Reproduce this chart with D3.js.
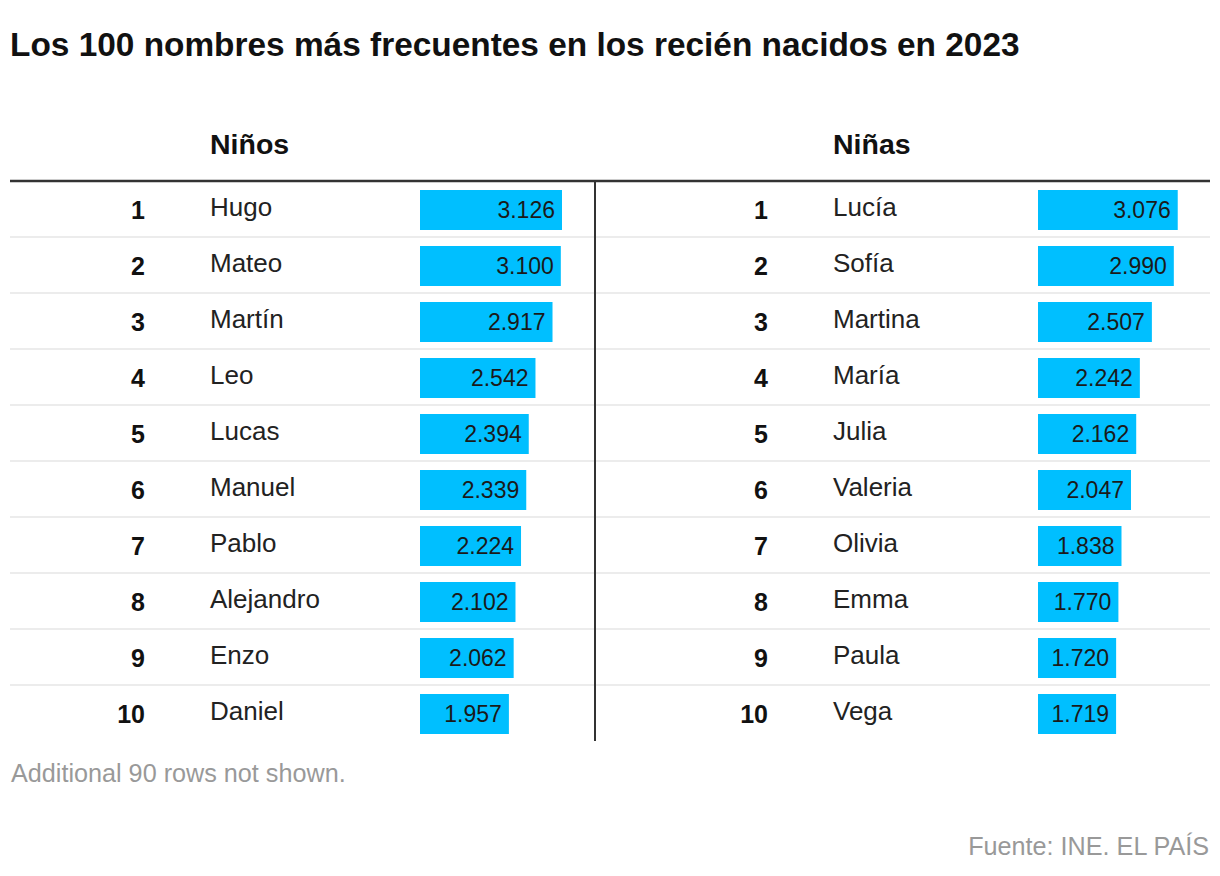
<!DOCTYPE html>
<html>
<head>
<meta charset="utf-8">
<script src="https://cdn.jsdelivr.net/npm/d3@7"></script>
<style>
  body { margin: 0; background: #fff; }
  svg { display: block; font-family: "Liberation Sans", Arial, sans-serif; }
</style>
</head>
<body>
<svg id="chart" width="1220" height="876"></svg>
<script>
// data
var ranks = [1, 2, 3, 4, 5, 6, 7, 8, 9, 10];
var boyNames = ["Hugo", "Mateo", "Martín", "Leo", "Lucas", "Manuel", "Pablo", "Alejandro", "Enzo", "Daniel"];
var boyValues = [3126, 3100, 2917, 2542, 2394, 2339, 2224, 2102, 2062, 1957];
var girlNames = ["Lucía", "Sofía", "Martina", "María", "Julia", "Valeria", "Olivia", "Emma", "Paula", "Vega"];
var girlValues = [3076, 2990, 2507, 2242, 2162, 2047, 1838, 1770, 1720, 1719];

var svg = d3.select("#chart");
var fmt = function(v) { return d3.format(",")(v).replace(/,/g, "."); };

svg.append("text")
  .attr("x", 10).attr("y", 56)
  .attr("font-size", 33.4).attr("font-weight", "bold")
  .attr("fill", "#111")
  .text("Los 100 nombres más frecuentes en los recién nacidos en 2023");

var tableTop = 181, rowH = 56;
var y = d3.scaleBand().domain(ranks).range([tableTop, tableTop + rowH * ranks.length]);
var x = d3.scaleLinear().domain([0, 3126]).range([0, 142]);

// row separators run across both tables
svg.selectAll(".sep").data(ranks.slice(0, -1)).enter().append("line")
  .attr("class", "sep")
  .attr("x1", 10).attr("x2", 1210)
  .attr("y1", function(d) { return y(d) + rowH; })
  .attr("y2", function(d) { return y(d) + rowH; })
  .attr("stroke", "#ececec").attr("stroke-width", 2);

function drawTable(rankX, nameX, barX, title, names, values) {
  var g = svg.append("g");
  g.append("text")
    .attr("x", nameX).attr("y", 154)
    .attr("font-size", 28.5).attr("font-weight", "bold").attr("fill", "#111")
    .text(title);

  var rows = g.selectAll(".row").data(ranks).enter().append("g")
    .attr("class", "row")
    .attr("transform", function(d) { return "translate(0," + y(d) + ")"; });

  rows.append("text")
    .attr("x", rankX).attr("y", 38)
    .attr("text-anchor", "end")
    .attr("font-size", 25).attr("font-weight", "bold").attr("fill", "#111")
    .text(function(d) { return d; });

  rows.append("text")
    .attr("x", nameX).attr("y", 35)
    .attr("font-size", 26).attr("fill", "#222")
    .text(function(d, i) { return names[i]; });

  rows.append("rect")
    .attr("x", barX).attr("y", 9)
    .attr("width", function(d, i) { return x(values[i]); })
    .attr("height", 40)
    .attr("fill", "#00bfff");

  rows.append("text")
    .attr("x", function(d, i) { return barX + x(values[i]) - 7; })
    .attr("y", 37)
    .attr("text-anchor", "end")
    .attr("font-size", 23).attr("fill", "#1a1a1a")
    .text(function(d, i) { return fmt(values[i]); });
}

drawTable(145, 210, 420, "Niños", boyNames, boyValues);
drawTable(768, 833, 1038, "Niñas", girlNames, girlValues);

svg.append("line")
  .attr("x1", 595).attr("x2", 595)
  .attr("y1", tableTop).attr("y2", tableTop + rowH * ranks.length)
  .attr("stroke", "#333").attr("stroke-width", 2);

svg.append("line")
  .attr("x1", 10).attr("x2", 1210)
  .attr("y1", tableTop).attr("y2", tableTop)
  .attr("stroke", "#333").attr("stroke-width", 2.5);

svg.append("text")
  .attr("x", 11).attr("y", 782)
  .attr("font-size", 25.2).attr("fill", "#999")
  .text("Additional 90 rows not shown.");

svg.append("text")
  .attr("x", 1209).attr("y", 855)
  .attr("text-anchor", "end")
  .attr("font-size", 25.2).attr("fill", "#999")
  .text("Fuente: INE. EL PAÍS");
</script>
</body>
</html>
